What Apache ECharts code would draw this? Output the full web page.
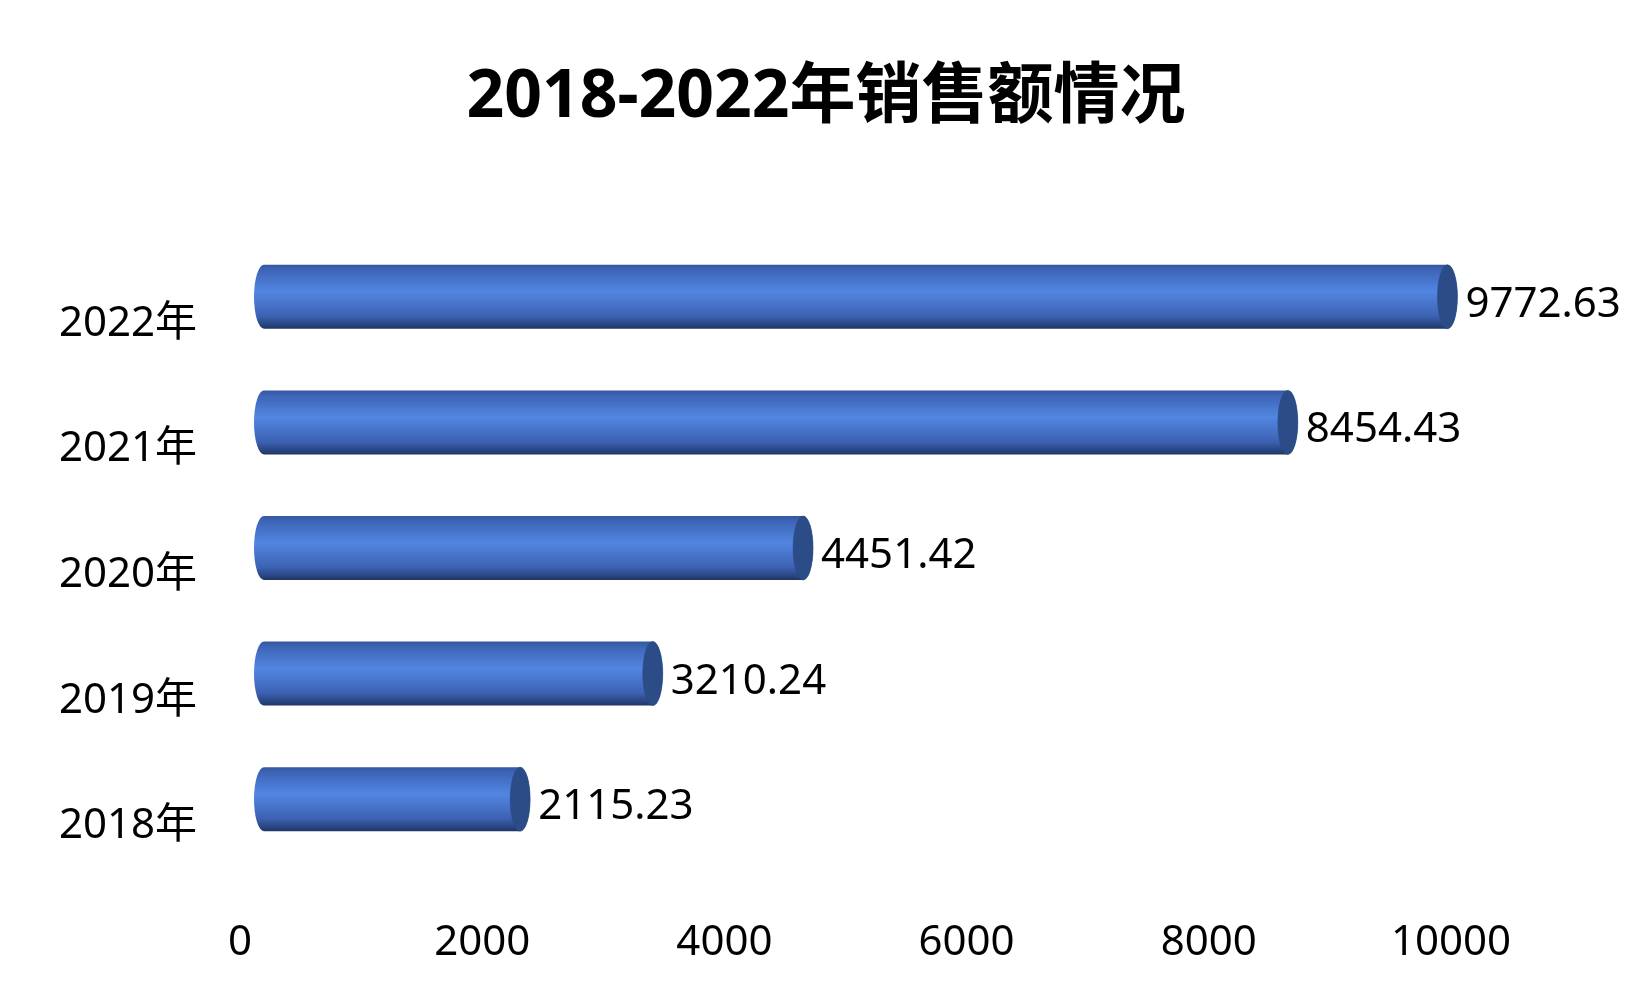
<!DOCTYPE html>
<html>
<head>
<meta charset="utf-8">
<script src="https://cdn.jsdelivr.net/npm/echarts@6/dist/echarts.min.js"></script>
<style>
html,body{margin:0;padding:0;background:#fff;}
#main{width:1652px;height:1005px;}
</style>
</head>
<body>
<div id="main"></div>
<script>
const titleText = '2018-2022年销售额情况';
const categories = ['2018年', '2019年', '2020年', '2021年', '2022年'];
const values = [2115.23, 3210.24, 4451.42, 8454.43, 9772.63];
const xTicks = [0, 2000, 4000, 6000, 8000, 10000];

const FONT = "'Noto Sans', 'Noto Sans CJK SC', sans-serif";
const chart = echarts.init(document.getElementById('main'));

const DEPTH_X = 24, DEPTH_Y = -27, BAR_H = 64, RX = 10;

function renderItem(params, api) {
  const v = api.value(1);
  const c = api.value(0);
  const p0 = api.coord([0, c]);
  const p1 = api.coord([v, c]);
  const sx = p0[0] + DEPTH_X;
  const ex = p1[0] + DEPTH_X;
  const cy = p0[1] + DEPTH_Y;
  const top = cy - BAR_H / 2, bot = cy + BAR_H / 2;
  const ry = BAR_H / 2;
  const body = `M ${sx} ${top} L ${ex} ${top} A ${RX} ${ry} 0 0 1 ${ex} ${bot} L ${sx} ${bot} A ${RX} ${ry} 0 0 1 ${sx} ${top} Z`;
  const cap = `M ${ex} ${top} A ${RX} ${ry} 0 0 1 ${ex} ${bot} A ${RX} ${ry} 0 0 1 ${ex} ${top} Z`;
  return {
    type: 'group',
    children: [
      {
        type: 'path',
        shape: { pathData: body },
        style: {
          fill: new echarts.graphic.LinearGradient(0, 0, 0, 1, [
            { offset: 0, color: '#34579f' },
            { offset: 0.08, color: '#3d64b6' },
            { offset: 0.42, color: '#5286e2' },
            { offset: 0.8, color: '#3c62b2' },
            { offset: 0.95, color: '#27427c' },
            { offset: 1, color: '#1f3562' }
          ]),
          stroke: null
        }
      },
      {
        type: 'path',
        shape: { pathData: cap },
        style: { fill: '#2c4c88', stroke: '#2a4885', lineWidth: 0.5 }
      },
      {
        type: 'text',
        style: {
          text: api.value(2),
          x: ex + RX + 8,
          y: cy + 8,
          verticalAlign: 'middle',
          align: 'left',
          fill: '#000',
          font: `42px ${FONT}`
        }
      }
    ]
  };
}

chart.setOption({
  backgroundColor: '#ffffff',
  animation: false,
  title: {
    text: titleText,
    left: 'center',
    top: 60,
    textStyle: { fontSize: 66, fontWeight: 'bold', color: '#000', fontFamily: FONT }
  },
  grid: { left: 240, right: 201, top: 261, bottom: 116, containLabel: false },
  xAxis: {
    type: 'value',
    min: xTicks[0],
    max: xTicks[xTicks.length - 1],
    interval: xTicks[1] - xTicks[0],
    axisLine: { show: false },
    axisTick: { show: false },
    splitLine: { show: false },
    axisLabel: { fontSize: 42, color: '#000', fontFamily: FONT, margin: 33, formatter: v => String(v) }
  },
  yAxis: {
    type: 'category',
    data: categories,
    axisLine: { show: false },
    axisTick: { show: false },
    axisLabel: { fontSize: 42, color: '#000', fontFamily: FONT, margin: 43 }
  },
  series: [{
    type: 'custom',
    renderItem: renderItem,
    encode: { x: 1, y: 0 },
    data: values.map((v, i) => [i, v, v.toFixed(2)])
  }]
});
</script>
</body>
</html>
